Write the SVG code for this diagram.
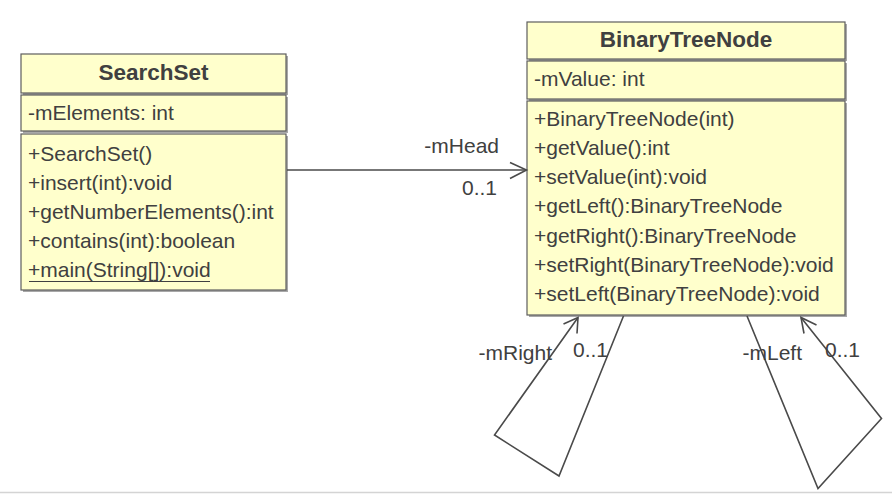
<svg xmlns="http://www.w3.org/2000/svg" width="892" height="496" viewBox="0 0 892 496">
<style>
.box{fill:#ffffcc;stroke:#5e5e5e;stroke-width:1.2}
.sh{fill:#a8a8a8}
.t{font-family:"Liberation Sans",Arial,sans-serif;font-size:21px;fill:#404040}
.h{font-family:"Liberation Sans",Arial,sans-serif;font-size:22.5px;font-weight:bold;fill:#404040;text-anchor:middle}
.ln{fill:none;stroke:#4a4a4a;stroke-width:1.6}
.r{text-anchor:end}
</style>
<rect width="892" height="496" fill="#ffffff"/>
<line x1="0" y1="492.5" x2="892" y2="492.5" stroke="#d4d4d4" stroke-width="1.5"/>
<g id="SearchSet">
<rect class="sh" x="23" y="56" width="265" height="39"/>
<rect class="box" x="21" y="54" width="265" height="39"/>
<rect class="sh" x="23" y="97" width="265" height="36"/>
<rect class="box" x="21" y="95" width="265" height="36"/>
<rect class="sh" x="23" y="136" width="265" height="156"/>
<rect class="box" x="21" y="134" width="265" height="156"/>
<text class="h" x="153.5" y="80">SearchSet</text>
<text class="t" x="28" y="119.5">-mElements: int</text>
<text class="t" x="28" y="161">+SearchSet()</text>
<text class="t" x="28" y="190">+insert(int):void</text>
<text class="t" x="28" y="219">+getNumberElements():int</text>
<text class="t" x="28" y="248">+contains(int):boolean</text>
<text class="t" x="28" y="277">+main(String[]):void</text>
<line x1="29" y1="281.5" x2="210" y2="281.5" stroke="#404040" stroke-width="1.2"/>
</g>
<g id="BinaryTreeNode">
<rect class="sh" x="529" y="24" width="318" height="37"/>
<rect class="box" x="527" y="22" width="318" height="37"/>
<rect class="sh" x="529" y="63" width="318" height="38"/>
<rect class="box" x="527" y="61" width="318" height="38"/>
<rect class="sh" x="529" y="103" width="318" height="214"/>
<rect class="box" x="527" y="101" width="318" height="214"/>
<text class="h" x="686" y="47">BinaryTreeNode</text>
<text class="t" x="534" y="86">-mValue: int</text>
<text class="t" x="534" y="125.5">+BinaryTreeNode(int)</text>
<text class="t" x="534" y="154.8">+getValue():int</text>
<text class="t" x="534" y="184.1">+setValue(int):void</text>
<text class="t" x="534" y="213.4">+getLeft():BinaryTreeNode</text>
<text class="t" x="534" y="242.7">+getRight():BinaryTreeNode</text>
<text class="t" x="534" y="272">+setRight(BinaryTreeNode):void</text>
<text class="t" x="534" y="301.3">+setLeft(BinaryTreeNode):void</text>
</g>
<g id="connectors">
<path class="ln" d="M287 170 H526.5"/>
<path class="ln" d="M510 162.5 L526.5 170 L510 178.5"/>
<text class="t r" x="499" y="153">-mHead</text>
<text class="t r" x="497" y="195">0..1</text>
<path class="ln" d="M623.5 316 L559 476 L494.5 435 L578 317.5"/>
<path class="ln" d="M563.5 324 L578 317.5 L577 333.5"/>
<text class="t r" x="552" y="359.5">-mRight</text>
<text class="t" x="573" y="357">0..1</text>
<path class="ln" d="M747 316 L818 488.5 L881.5 418.5 L801 317.5"/>
<path class="ln" d="M816.5 325 L801 317.5 L804 333.5"/>
<text class="t r" x="802" y="359.5">-mLeft</text>
<text class="t" x="825" y="357">0..1</text>
</g>
</svg>
